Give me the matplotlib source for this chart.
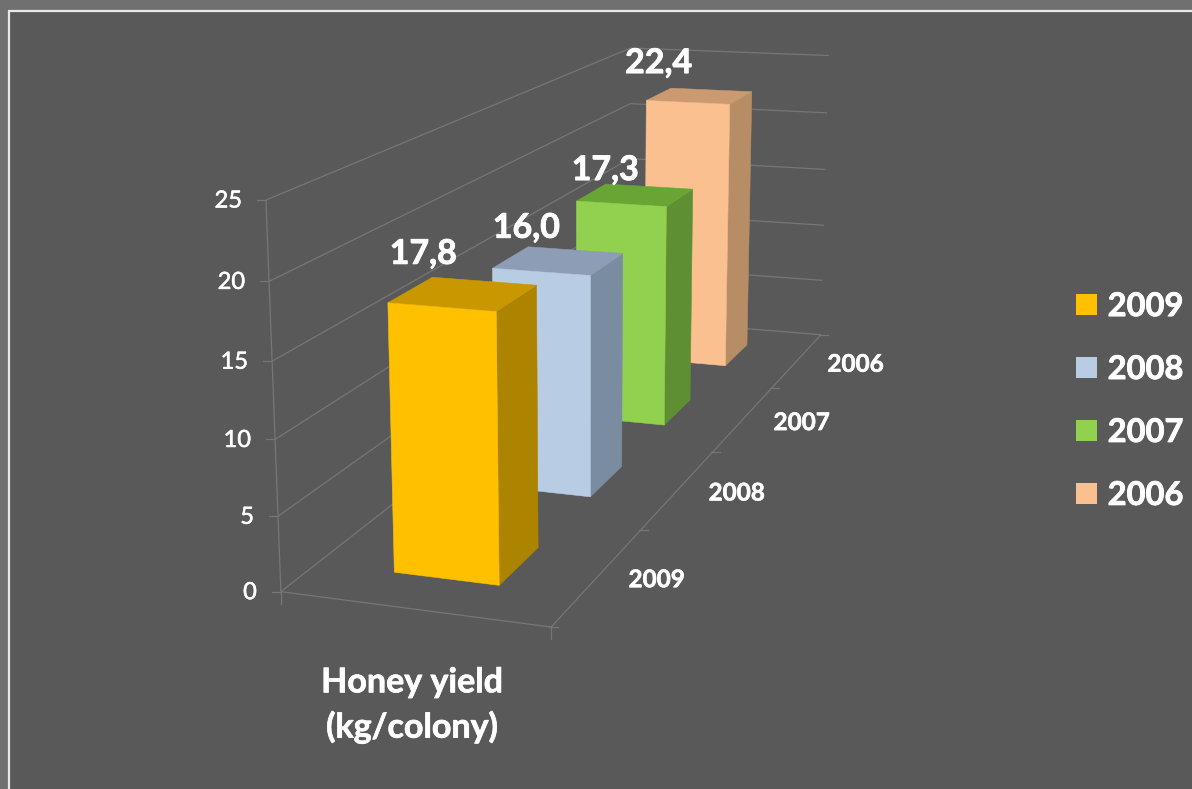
import matplotlib
matplotlib.use('Agg')
import matplotlib.pyplot as plt
import matplotlib.patheffects as pe
from matplotlib.patches import Polygon, Patch, Rectangle
import numpy as np

# Data
years = ['2009', '2008', '2007', '2006']
honey_yield = [17.8, 16.0, 17.3, 22.4]
value_labels = ['17,8', '16,0', '17,3', '22,4']
z_ticks = [0, 5, 10, 15, 20, 25]

# Colours per bar: front, side, top
front_colors = ['#FFC000', '#B8CCE4', '#92D050', '#FAC090']
side_colors = ['#AD8400', '#7A8CA0', '#5E9033', '#B78D65']
top_colors = ['#C99800', '#8D9DB5', '#69A535', '#CC9A70']

BG = '#595959'
GRID = '#767676'

# Pixel nudge of each value label from the top of its bar
label_nudge = [(-40, -40), (-32, -33), (-30, -25), (-41, -33)]

# Camera calibration: (x, depth, z) of known corners and the pixel each lands on
cam_world = [
    (0, 0, 0), (1, 0, 0), (1, 4, 0), (0, 4, 0), (0, 0, 25), (1, 4, 25), (0, 4, 25),
    (.3, .3, 0), (.7, .3, 0), (.7, .7, 0),
    (.3, .3, 17.8), (.7, .3, 17.8), (.7, .7, 17.8), (.3, .7, 17.8),
    (.7, 1.3, 0), (.7, 1.7, 0),
    (.3, 1.3, 16), (.7, 1.3, 16), (.7, 1.7, 16), (.3, 1.7, 16),
    (.7, 2.3, 0), (.7, 2.7, 0),
    (.3, 2.3, 17.3), (.7, 2.3, 17.3), (.7, 2.7, 17.3), (.3, 2.7, 17.3),
    (.7, 3.3, 0), (.7, 3.7, 0),
    (.3, 3.3, 22.4), (.7, 3.3, 22.4), (.7, 3.7, 22.4), (.3, 3.7, 22.4),
]
cam_pixel = [
    (279.3, 590.7), (551.7, 629), (820, 336), (635, 322), (266.7, 200), (830, 56), (627, 48),
    (392.7, 571.7), (499.3, 585), (537.7, 546.7),
    (389, 302.7), (498.3, 311.7), (537.7, 286.7), (431.7, 277.3),
    (590, 496.7), (620.7, 468.3),
    (492.3, 268.3), (591.7, 275), (622.7, 254.3), (528.3, 246.7),
    (664, 425), (690, 397.3),
    (576, 200.7), (666.7, 205.7), (692.7, 190), (605, 184.3),
    (723.3, 366), (746.7, 341.7),
    (645.7, 100), (730, 104), (752.3, 91.7), (670.7, 87.7),
]


def fit_camera(world, pixel):
    # Plain DLT with the last matrix entry fixed to 1
    rows = []
    rhs = []
    for (X, Y, Z), (u, v) in zip(world, pixel):
        rows.append([X, Y, Z, 1, 0, 0, 0, 0, -u*X, -u*Y, -u*Z])
        rows.append([0, 0, 0, 0, X, Y, Z, 1, -v*X, -v*Y, -v*Z])
        rhs += [u, v]
    sol = np.linalg.lstsq(np.array(rows, float), np.array(rhs, float), rcond=None)[0]
    return np.append(sol, 1).reshape(3, 4)


P = fit_camera(cam_world, cam_pixel)


def proj(x, d, z):
    u, v, w = P @ np.array([x, d, z, 1.0])
    return u/w, v/w


def line3d(ax, a, b, lw=0.9):
    pa, pb = proj(*a), proj(*b)
    ax.plot([pa[0], pb[0]], [pa[1], pb[1]], color=GRID, lw=lw, zorder=2, solid_capstyle='butt')


def heavy(width):
    # Lato Bold is lighter than the original lettering
    return [pe.withStroke(linewidth=width, foreground='white')]


plt.rcParams['font.family'] = ['Lato', 'DejaVu Sans']

fig = plt.figure(figsize=(11.92, 7.89), dpi=100, facecolor='#707070')
ax = fig.add_axes([0, 0, 1, 1])
ax.set_xlim(0, 1192)
ax.set_ylim(789, 0)
ax.axis('off')

# Slide panel with its light top and left edge
ax.add_patch(Rectangle((8.5, 11), 1300, 900, facecolor=BG, edgecolor='#e8e8e8', lw=1.6, zorder=1))

depth = len(years)

# Walls and floor
for z in z_ticks:
    line3d(ax, (0, 0, z), (0, depth, z))
    line3d(ax, (0, depth, z), (1, depth, z))
    u, v = proj(0, 0, z)
    ax.plot([u-9, u], [v, v], color=GRID, lw=0.9, zorder=2)
    ax.text(u-24, v+1, str(z), color='white', fontsize=17, ha='right', va='center', zorder=6,
            path_effects=heavy(0.4))

line3d(ax, (0, 0, 0), (0, 0, 25))
line3d(ax, (0, 0, 0), (1, 0, 0))
line3d(ax, (1, 0, 0), (1, depth, 0))
for x in [0, 1]:
    u, v = proj(x, 0, 0)
    ax.plot([u, u], [v, v+12], color=GRID, lw=0.9, zorder=2)
for i in range(depth + 1):
    u, v = proj(1, i, 0)
    ax.plot([u-2, u+7], [v, v], color=GRID, lw=0.9, zorder=2)

# Bars, back one first so the nearer ones cover it
for i in reversed(range(depth)):
    h = honey_yield[i]
    x0, x1 = 0.3, 0.7
    d0, d1 = i + 0.3, i + 0.7
    zo = 10 - i
    front = [proj(x0, d0, 0), proj(x1, d0, 0), proj(x1, d0, h), proj(x0, d0, h)]
    side = [proj(x1, d0, 0), proj(x1, d1, 0), proj(x1, d1, h), proj(x1, d0, h)]
    top = [proj(x0, d0, h), proj(x1, d0, h), proj(x1, d1, h), proj(x0, d1, h)]
    ax.add_patch(Polygon(side, facecolor=side_colors[i], edgecolor=side_colors[i], lw=0.4, zorder=zo))
    ax.add_patch(Polygon(top, facecolor=top_colors[i], edgecolor=top_colors[i], lw=0.4, zorder=zo))
    ax.add_patch(Polygon(front, facecolor=front_colors[i], edgecolor=front_colors[i], lw=0.4, zorder=zo))

    # Value above the bar
    u, v = proj(0.5, i + 0.5, h)
    ax.text(u + label_nudge[i][0], v + label_nudge[i][1], value_labels[i], color='white', fontsize=24.5,
            fontweight='bold', ha='center', va='center', zorder=20, path_effects=heavy(0.6))

    # Depth axis label
    u, v = proj(1, i + 0.5, 0)
    ax.text(u + 58, v + 4, years[i], color='white', fontsize=17.5, fontweight='bold',
            ha='center', va='center', zorder=6, path_effects=heavy(0.4))

ax.text(412, 705, 'Honey yield\n(kg/colony)', color='white', fontsize=24.5, fontweight='bold',
        ha='center', va='center', linespacing=1.45, zorder=6, path_effects=heavy(0.5))

handles = [Patch(facecolor=c, edgecolor='none', label=y) for c, y in zip(front_colors, years)]
leg = ax.legend(handles=handles, loc='center left', bbox_to_anchor=(1076/1192, 1-401/789),
                frameon=False, fontsize=23.5, labelcolor='white', handlelength=0.64, handleheight=0.64,
                handletextpad=0.33, labelspacing=1.04, borderpad=0, borderaxespad=0)
for t in leg.get_texts():
    t.set_fontweight('bold')
    t.set_path_effects(heavy(0.6))

plt.savefig('out.png', dpi=100, facecolor=fig.get_facecolor())
